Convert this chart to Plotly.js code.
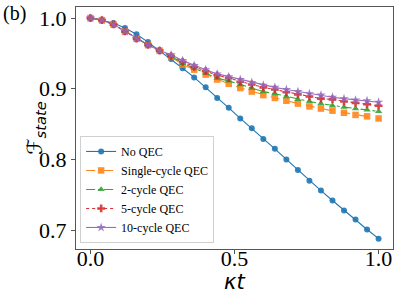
<!DOCTYPE html>
<html>
<head>
<meta charset="utf-8">
<script src="https://cdn.plot.ly/plotly-3.0.1.min.js"></script>
<style>html,body{margin:0;padding:0;background:#fff;}#chart{width:396px;height:297px;}</style>
</head>
<body>
<div id="chart"></div>
<script>
const kt = [0, 0.04, 0.08, 0.12, 0.16, 0.20, 0.24, 0.28, 0.32, 0.36, 0.40, 0.44, 0.48, 0.52, 0.56, 0.60, 0.64, 0.68, 0.72, 0.76, 0.80, 0.84, 0.88, 0.92, 0.96, 1.00];
const noQEC = [1.000, 0.997, 0.993, 0.986, 0.977, 0.966, 0.954, 0.942, 0.929, 0.916, 0.902, 0.887, 0.873, 0.858, 0.844, 0.829, 0.815, 0.800, 0.785, 0.770, 0.756, 0.742, 0.728, 0.715, 0.701, 0.688];
const single = [1.000, 0.997, 0.991, 0.981, 0.971, 0.962, 0.954, 0.945, 0.934, 0.927, 0.920, 0.913, 0.907, 0.901, 0.896, 0.891, 0.887, 0.883, 0.879, 0.875, 0.872, 0.869, 0.866, 0.863, 0.861, 0.858];
const cyc2 = [1.000, 0.997, 0.991, 0.981, 0.971, 0.962, 0.954, 0.946, 0.936, 0.929, 0.922, 0.915, 0.911, 0.906, 0.901, 0.896, 0.893, 0.889, 0.885, 0.882, 0.879, 0.876, 0.874, 0.872, 0.870, 0.868];
const cyc5 = [1.000, 0.997, 0.991, 0.981, 0.971, 0.962, 0.954, 0.946, 0.938, 0.931, 0.925, 0.919, 0.915, 0.910, 0.906, 0.902, 0.899, 0.895, 0.892, 0.889, 0.886, 0.885, 0.882, 0.880, 0.878, 0.876];
const cyc10 = [1.000, 0.997, 0.991, 0.981, 0.971, 0.962, 0.954, 0.948, 0.940, 0.933, 0.927, 0.921, 0.917, 0.913, 0.909, 0.905, 0.902, 0.899, 0.896, 0.893, 0.891, 0.888, 0.886, 0.884, 0.883, 0.881];
const names = ['No QEC', 'Single-cycle QEC', '2-cycle QEC', '5-cycle QEC', '10-cycle QEC'];
const xTicks = [0, 0.5, 1.0];
const xTickText = ['0.0', '0.5', '1.0'];
const yTicks = [0.7, 0.8, 0.9, 1.0];
const yTickText = ['0.7', '0.8', '0.9', '1.0'];
const xTitle = '<i>κt</i>';
const yTitle = '<i>ℱ</i><sub><i>state</i></sub>';

const series = [noQEC, single, cyc2, cyc5, cyc10];
const colors = ['#1f77b4', '#ff7f0e', '#2ca02c', '#d62728', '#9467bd'];
const dashes = ['solid', 'dash', 'dashdot', 'dot', 'solid'];
const symbols = ['circle', 'square', 'triangle-up', 'cross', 'star'];
const msize = [6, 6.5, 6.5, 6.5, 7];

const traces = series.map((ys, i) => ({
  x: kt, y: ys, name: names[i], type: 'scatter', mode: 'lines+markers',
  line: {color: colors[i], width: 1.1, dash: dashes[i]},
  marker: {color: colors[i], symbol: symbols[i], size: msize[i], opacity: 0.9, line: {width: 0}},
  opacity: i === 0 ? 1 : 0.95
}));

const layout = {
  width: 396, height: 297,
  margin: {l: 76, r: 3, t: 7, b: 48},
  paper_bgcolor: '#fff', plot_bgcolor: '#fff',
  showlegend: true,
  legend: {
    x: 0.013, y: 0.025, xanchor: 'left', yanchor: 'bottom',
    bgcolor: 'rgba(255,255,255,0.8)', bordercolor: '#d0d0d0', borderwidth: 1,
    font: {family: 'Liberation Serif, serif', size: 12, color: '#000'},
    itemwidth: 30, tracegroupgap: 0
  },
  xaxis: {
    range: [-0.05, 1.05], tickvals: xTicks, ticktext: xTickText,
    showgrid: false, zeroline: false, showline: true, mirror: true,
    linecolor: '#555', linewidth: 1.2, ticks: 'outside', ticklen: 4, tickcolor: '#555',
    ticklabelstandoff: -15,
    tickfont: {family: 'Liberation Serif, serif', size: 22, color: '#000'}
  },
  yaxis: {
    range: [0.6734, 1.0156], tickvals: yTicks, ticktext: yTickText,
    showgrid: false, zeroline: false, showline: true, mirror: true,
    linecolor: '#555', linewidth: 1.2, ticks: 'outside', ticklen: 4, tickcolor: '#555',
    tickfont: {family: 'Liberation Serif, serif', size: 22, color: '#000'}
  },
  annotations: [{
    text: '(b)', xref: 'paper', yref: 'paper', x: 0, y: 1, xanchor: 'left', yanchor: 'top',
    xshift: -75, yshift: 7, showarrow: false,
    font: {family: 'Liberation Serif, serif', size: 20, color: '#000'}
  }, {
    text: yTitle, xref: 'paper', yref: 'paper', x: 0, y: 0.5, xanchor: 'center', yanchor: 'middle',
    xshift: -40, textangle: -90, showarrow: false,
    font: {family: 'DejaVu Sans, sans-serif', size: 21, color: '#000'}
  }, {
    text: xTitle, xref: 'paper', yref: 'paper', x: 0.5, y: 0, xanchor: 'center', yanchor: 'middle',
    yshift: -33, showarrow: false,
    font: {family: 'DejaVu Sans, sans-serif', size: 21, color: '#000'}
  }]
};

Plotly.newPlot('chart', traces, layout, {staticPlot: true, displayModeBar: false});
</script>
</body>
</html>
